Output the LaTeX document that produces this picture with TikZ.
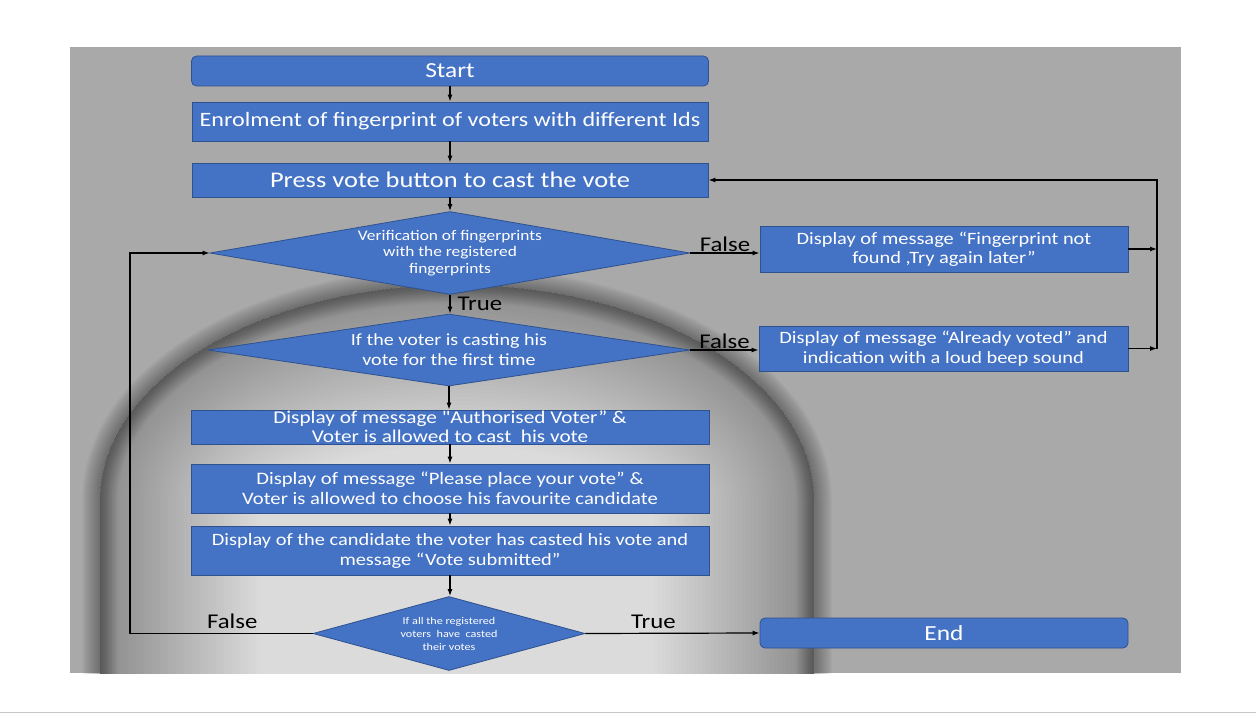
\documentclass[tikz,border=0pt]{standalone}
\usepackage{fontspec}
\newfontfamily\flowfont{Carlito}[FakeStretch=1.18]
\usetikzlibrary{shapes.geometric,arrows.meta}
\definecolor{boxblue}{HTML}{4472C4}
\definecolor{boxedge}{HTML}{2F528F}
\definecolor{bggrey}{HTML}{A9A9A9}
\definecolor{domein}{HTML}{DBDBDB}
\newcommand\fsz[2]{\flowfont\fontsize{#1}{#2}\selectfont}
\newcommand\archpath{(100,700) -- (100,500) arc[start angle=180,end angle=360,x radius=357,y radius=215] -- (814,700)}
\begin{document}
\begin{tikzpicture}[x=1pt,y=-1pt,>={Latex[length=7pt,width=5pt]},
  blk/.style={draw=boxedge,fill=boxblue,text=white,rectangle,inner sep=0pt,align=center,line width=0.8pt},
  rblk/.style={blk,rounded corners=5pt},
  dia/.style={draw=boxedge,fill=boxblue,text=white,diamond,inner sep=0pt,align=center,line width=0.8pt},
  lbl/.style={font=\fsz{21}{24},text=black,inner sep=1pt},
  ln/.style={line width=1.2pt}]
\useasboundingbox (0,0) rectangle (1256,714);
\fill[bggrey] (70,47) rectangle (1181,673);
\begin{scope}
\clip (70,47) rectangle (1181,673);
\fill[domein] \archpath -- cycle;
\begin{scope}
\clip \archpath -- cycle;
\foreach \i in {1,...,40}
	\draw[line width=8*\i,black,opacity=0.0075] \archpath;
\end{scope}
\foreach \i in {1,...,18}
	\draw[line width=2*\i,black,opacity=0.02] \archpath;
\end{scope}
\draw[gray!45] (0,712.5)--(1256,712.5);

\node[rblk,minimum width=517pt,minimum height=30pt,font=\fsz{21.5}{24}] (start) at (450,71) {Start};
\node[blk,minimum width=516pt,minimum height=39pt,font=\fsz{20.4}{24}] (enrol) at (450,121.5) {Enrolment of fingerprint of voters with different Ids};
\node[blk,minimum width=516pt,minimum height=34pt,font=\fsz{22.4}{26}] (press) at (450,180) {Press vote button to cast the vote};
\node[dia,minimum width=480pt,minimum height=83pt,shape aspect=5.8,font=\fsz{14.7}{16.5}] (verify) at (450,253) {Verification of fingerprints\\with the registered\\fingerprints};
\node[dia,minimum width=482pt,minimum height=72pt,shape aspect=6.7,font=\fsz{17}{20}] (first) at (449,350) {If the voter is casting his\\vote for the first time};
\node[blk,minimum width=518pt,minimum height=34pt,font=\fsz{18}{19}] (auth) at (450,427) {Display of message "Authorised Voter” \&\\Voter is allowed to cast\ \ his vote};
\node[blk,minimum width=518pt,minimum height=49pt,font=\fsz{17.5}{19.5}] (place) at (450,488.5) {Display of message “Please place your vote” \&\\Voter is allowed to choose his favourite candidate};
\node[blk,minimum width=518pt,minimum height=49pt,font=\fsz{17.3}{20}] (cast) at (450,550.5) {Display of the candidate the voter has casted his vote and\\message “Vote submitted”};
\node[dia,minimum width=272pt,minimum height=74pt,shape aspect=3.7,font=\fsz{10.3}{13}] (all) at (449,633.5) {If all the registered\\voters\ \ have\ \ casted\\their votes};
\node[blk,minimum width=368pt,minimum height=46pt,font=\fsz{17.3}{19}] (notfound) at (944,249) {Display of message “Fingerprint not\\found ,Try again later”};
\node[blk,minimum width=369pt,minimum height=45pt,font=\fsz{17.3}{20}] (voted) at (943.5,348.5) {Display of message “Already voted” and\\indication with a loud beep sound};
\node[rblk,minimum width=368pt,minimum height=30pt,font=\fsz{21.5}{24}] (stop) at (944,633) {End};
\coordinate (rloop) at (1157,180);
\coordinate (lloop) at (130,633.5);

\foreach \a/\b in {start/enrol,enrol/press,press/verify,first/auth,auth/place,place/cast,cast/all}
	\draw[ln,->] (\a.south) -- (\a.south|-\b.north);
\draw[ln,->] (verify.south) -- (verify.south|-first.north) node[lbl,midway,right=6pt]{True};
\draw[ln,->] (verify.east) -- (verify.east-|notfound.west) node[lbl,midway,above]{False};
\draw[ln,->] (first.east) -- (first.east-|voted.west) node[lbl,midway,above]{False};
\draw[ln,->] (notfound.east) -- (notfound.east-|rloop);
\draw[ln,->] (voted.east) -- (voted.east-|rloop);
\draw[ln,->] (voted.east-|rloop) -- (rloop) -- (press.east);
\draw[ln,->] (all.west) -- (lloop) node[lbl,pos=0.44,above=3pt]{False} -- (lloop|-verify.west) -- (verify.west);
\draw[ln,->] (all.east) -- (stop.west) node[lbl,pos=0.39,above=3pt]{True};
\end{tikzpicture}
\end{document}
